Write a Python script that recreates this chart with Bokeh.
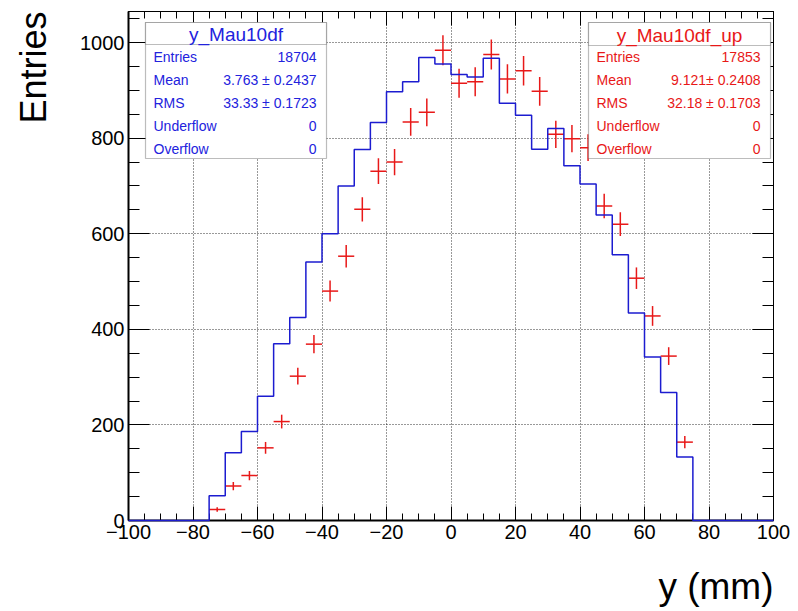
import numpy as np
from bokeh.plotting import figure
from bokeh.models import FixedTicker, LinearAxis, Range1d, BoxAnnotation, Label, ColumnDataSource, Title
from bokeh.embed import file_html
from bokeh.resources import INLINE

# ---------------- data ----------------
bin_low = [-100, -95, -90, -85, -80, -75, -70, -65, -60, -55, -50, -45, -40, -35, -30, -25,
           -20, -15, -10, -5, 0, 5, 10, 15, 20, 25, 30, 35, 40, 45, 50, 55, 60, 65, 70, 75,
           80, 85, 90, 95]
bin_width = 5
blue_counts = [0, 0, 0, 0, 0, 52, 142, 186, 260, 370, 425, 541, 600, 700, 776, 833,
               897, 918, 969, 955, 933, 928, 967, 873, 848, 777, 820, 742, 704, 639, 556, 434,
               342, 268, 133, 0, 0, 0, 0, 0]
red_centers = [-72.5, -67.5, -62.5, -57.5, -52.5, -47.5, -42.5, -37.5, -32.5, -27.5,
               -22.5, -17.5, -12.5, -7.5, -2.5, 2.5, 7.5, 12.5, 17.5, 22.5,
               27.5, 32.5, 37.5, 42.5, 47.5, 52.5, 57.5, 62.5, 67.5, 72.5]
red_counts = [23, 72, 94, 152, 207, 302, 369, 480, 553, 651,
              731, 750, 834, 854, 984, 915, 918, 975, 924, 941,
              898, 808, 799, 780, 658, 620, 507, 428, 344, 164]

x_ticks = [-100, -80, -60, -40, -20, 0, 20, 40, 60, 80, 100]
x_tick_labels = ["\u2212100", "\u221280", "\u221260", "\u221240", "\u221220", "0", "20", "40", "60", "80", "100"]
x_minor = [-100 + 5 * i for i in range(41)]
y_ticks = [0, 200, 400, 600, 800, 1000]
y_tick_labels = ["0", "200", "400", "600", "800", "1000"]
y_minor = [50 * i for i in range(22)]

blue_name = "y_Mau10df"
blue_stats = [("Entries", "18704"), ("Mean", "3.763 \u00b1 0.2437"), ("RMS", "33.33 \u00b1 0.1723"),
              ("Underflow", "0"), ("Overflow", "0")]
red_name = "y_Mau10df_up"
red_stats = [("Entries", "17853"), ("Mean", "9.121\u00b1 0.2408"), ("RMS", "32.18 \u00b1 0.1703"),
             ("Underflow", "0"), ("Overflow", "0")]

x_title = "y (mm)"
y_title = "Entries"

# ---------------- layout helpers ----------------
W, H = 798, 611
FL, FR, FT, FB = 128, 773, 11, 520
XMIN, XMAX, YMIN, YMAX = -100, 100, 0, 1065


def px2x(px):
    return XMIN + (px - FL) * (XMAX - XMIN) / (FR - FL)


def py2y(py):
    return YMIN + (FB - py) * (YMAX - YMIN) / (FB - FT)


FONT = "Liberation Sans"
BLUE_LINE = "#1c1cd0"
BLUE_TEXT = "#2222dd"
RED = "#e81818"

p = figure(width=W, height=H, x_range=Range1d(XMIN, XMAX), y_range=Range1d(YMIN, YMAX),
           output_backend="svg", toolbar_location=None,
           min_border_left=FL, min_border_right=W - FR, min_border_top=FT, min_border_bottom=H - FB)
p.background_fill_color = "white"
p.border_fill_color = "white"
p.outline_line_color = "black"
p.outline_line_width = 1

xt = FixedTicker(ticks=x_ticks, minor_ticks=x_minor)
yt = FixedTicker(ticks=y_ticks, minor_ticks=y_minor)


def style_axis(ax, ticker, labels, main, ticks_list, tin, tmin):
    ax.ticker = ticker
    ax.major_tick_in = tin
    ax.major_tick_out = 0
    ax.minor_tick_in = tmin
    ax.minor_tick_out = 0
    ax.major_tick_line_color = "black"
    ax.minor_tick_line_color = "black"
    ax.axis_line_color = "black"
    if main:
        ax.axis_line_width = 2
        ax.major_label_overrides = {t: l for t, l in zip(ticks_list, labels)}
        ax.major_label_text_font = FONT
        ax.major_label_text_font_size = "20px"
        ax.major_label_text_color = "black"
        ax.major_label_standoff = 4
    else:
        ax.axis_line_width = 1
        ax.major_label_text_font_size = "0px"
        ax.major_label_standoff = 0
        ax.major_label_overrides = {t: "" for t in ticks_list}


style_axis(p.xaxis[0], xt, x_tick_labels, True, x_ticks, 14, 7)
style_axis(p.yaxis[0], yt, y_tick_labels, True, y_ticks, 21, 11)

top_ax = LinearAxis()
style_axis(top_ax, FixedTicker(ticks=x_ticks, minor_ticks=x_minor), None, False, x_ticks, 14, 7)
p.add_layout(top_ax, "above")
right_ax = LinearAxis()
style_axis(right_ax, FixedTicker(ticks=y_ticks, minor_ticks=y_minor), None, False, y_ticks, 21, 11)
p.add_layout(right_ax, "right")


def spacer_axis(gap, at):
    # a blank axis (white tick on white border) that only leaves room before the axis title
    return LinearAxis(ticker=FixedTicker(ticks=[at], minor_ticks=[]), major_tick_out=gap, major_tick_in=0,
                      minor_tick_out=0, minor_tick_in=0, axis_line_color=None,
                      major_tick_line_color="white", major_tick_line_width=1,
                      minor_tick_line_color=None,
                      major_label_overrides={at: ""},
                      major_label_text_font_size="0px", major_label_standoff=0)


for g in (p.xgrid[0], p.ygrid[0]):
    g.grid_line_color = "black"
    g.grid_line_dash = "1 2"
    g.grid_line_width = 1
    g.grid_line_alpha = 0.8

# ---------------- blue histogram ----------------
step_x = list(bin_low) + [bin_low[-1] + bin_width]
step_y = list(blue_counts) + [blue_counts[-1]]
p.step(x=step_x, y=step_y, mode="after", line_color=BLUE_LINE, line_width=1.5, level="overlay")

# ---------------- red points with errors ----------------
rc = np.array(red_centers, dtype=float)
rv = np.array(red_counts, dtype=float)
re = np.sqrt(rv)
src = ColumnDataSource(dict(x=rc, xl=rc - bin_width / 2, xr=rc + bin_width / 2,
                            y=rv, yl=rv - re, yh=rv + re))
p.segment(x0="xl", x1="xr", y0="y", y1="y", source=src, line_color=RED, line_width=1.5)
p.segment(x0="x", x1="x", y0="yl", y1="yh", source=src, line_color=RED, line_width=1.5)


# ---------------- stats boxes ----------------
def stats_box(left, right, top, sep, bottom, name, rows, color):
    p.add_layout(BoxAnnotation(left=px2x(left), right=px2x(right), top=py2y(top), bottom=py2y(bottom),
                               fill_color="white", fill_alpha=1.0, line_color="#222222", line_width=1.2,
                               level="annotation"))
    p.add_layout(BoxAnnotation(left=px2x(left), right=px2x(right), top=py2y(top), bottom=py2y(sep),
                               fill_color="white", fill_alpha=1.0, line_color="#222222", line_width=1.2,
                               level="annotation"))
    p.add_layout(Label(x=px2x((left + right) / 2), y=py2y((top + sep) / 2 + 1), text=name,
                       text_align="center", text_baseline="middle", text_font=FONT,
                       text_font_size="19px", text_color=color))
    row_y = [56, 79, 102, 125, 148]
    for (k, v), ry in zip(rows, row_y):
        p.add_layout(Label(x=px2x(left + 8), y=py2y(ry), text=k, text_align="left",
                           text_baseline="middle", text_font=FONT, text_font_size="14px",
                           text_color=color))
        p.add_layout(Label(x=px2x(right - 10), y=py2y(ry), text=v, text_align="right",
                           text_baseline="middle", text_font=FONT, text_font_size="14px",
                           text_color=color))


stats_box(145, 326, 22, 44, 158, blue_name, blue_stats, BLUE_TEXT)
stats_box(588, 770, 22, 45, 158, red_name, red_stats, RED)

# ---------------- axis titles ----------------
p.add_layout(spacer_axis(22, 0), "below")
p.add_layout(Title(text=x_title, align="right", text_font=FONT, text_font_size="37px",
                   text_font_style="normal", text_color="black", standoff=0), "below")
p.add_layout(spacer_axis(22, 500), "left")
p.add_layout(Title(text=y_title, align="right", text_font=FONT, text_font_size="36px",
                   text_font_style="normal", text_color="black", standoff=4), "left")

open("out.html", "w").write(file_html(p, INLINE))
